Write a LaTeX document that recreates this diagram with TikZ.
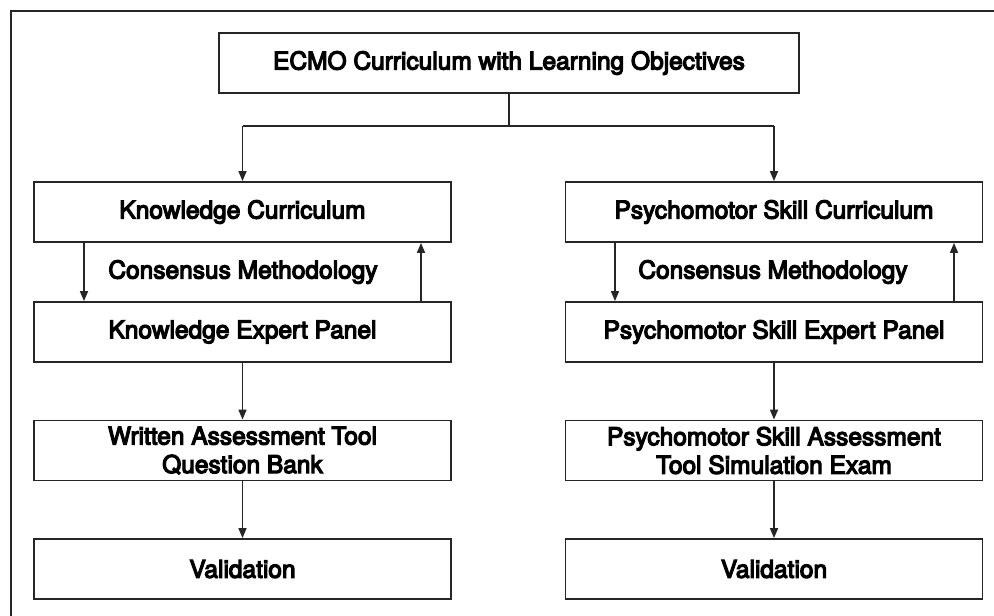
\documentclass[tikz,border=0pt]{standalone}
\usepackage{fontspec}
\newfontfamily\medfont{TeX Gyre Heros}[FakeBold=5]
\usetikzlibrary{arrows.meta}
\begin{document}
\begin{tikzpicture}[x=1pt,y=-1pt,
  box/.style={draw=black!85,line width=1.8pt,minimum height=60pt,inner sep=0pt,align=center,
    font=\medfont\fontsize{24.5}{28.5}\selectfont},
  colbox/.style={box,minimum width=417pt},
  lbl/.style={font=\medfont\fontsize{24.5}{28.5}\selectfont,inner sep=0pt},
  conn/.style={draw=black!85,line width=1.6pt},
  arr/.style={conn,-{Triangle[length=10pt,width=8pt]}}]
\useasboundingbox (0,0) rectangle (994,616);
\draw[conn,line width=1.4pt] (11,616) -- (11,11) -- (994,11);
\node[box,minimum width=580pt] (top) at (509,63) {ECMO Curriculum with Learning Objectives};
\node[colbox] (k1) at (242.5,212) {Knowledge Curriculum};
\node[colbox] (k2) at (242.5,332) {Knowledge Expert Panel};
\node[colbox] (k3) at (242.5,450.5) {Written Assessment Tool\\Question Bank};
\node[colbox] (k4) at (242.5,569) {Validation};
\node[colbox] (p1) at (774,212) {Psychomotor Skill Curriculum};
\node[colbox] (p2) at (774,332) {Psychomotor Skill Expert Panel};
\node[colbox] (p3) at (774,450.5) {Psychomotor Skill Assessment\\Tool Simulation Exam};
\node[colbox] (p4) at (774,569) {Validation};
\node[lbl] (kc) at (243,272) {Consensus Methodology};
\node[lbl] (pc) at (773,272) {Consensus Methodology};
\coordinate (yc) at (0,126);
\coordinate (xa) at (84,0);
\coordinate (xb) at (421,0);
\coordinate (xc) at (615,0);
\coordinate (xd) at (954,0);
\draw[conn] (top.south) -- (top.south |- yc);
\draw[conn] (k1.north |- yc) -- (p1.north |- yc);
\draw[arr] (k1.north |- yc) -- (k1.north);
\draw[arr] (p1.north |- yc) -- (p1.north);
\draw[arr] (k1.south -| xa) -- (k2.north -| xa);
\draw[arr] (k2.north -| xb) -- (k1.south -| xb);
\draw[arr] (p1.south -| xc) -- (p2.north -| xc);
\draw[arr] (p2.north -| xd) -- (p1.south -| xd);
\draw[arr] (k2.south) -- (k3.north);
\draw[arr] (k3.south) -- (k4.north);
\draw[arr] (p2.south) -- (p3.north);
\draw[arr] (p3.south) -- (p4.north);
\end{tikzpicture}
\end{document}
